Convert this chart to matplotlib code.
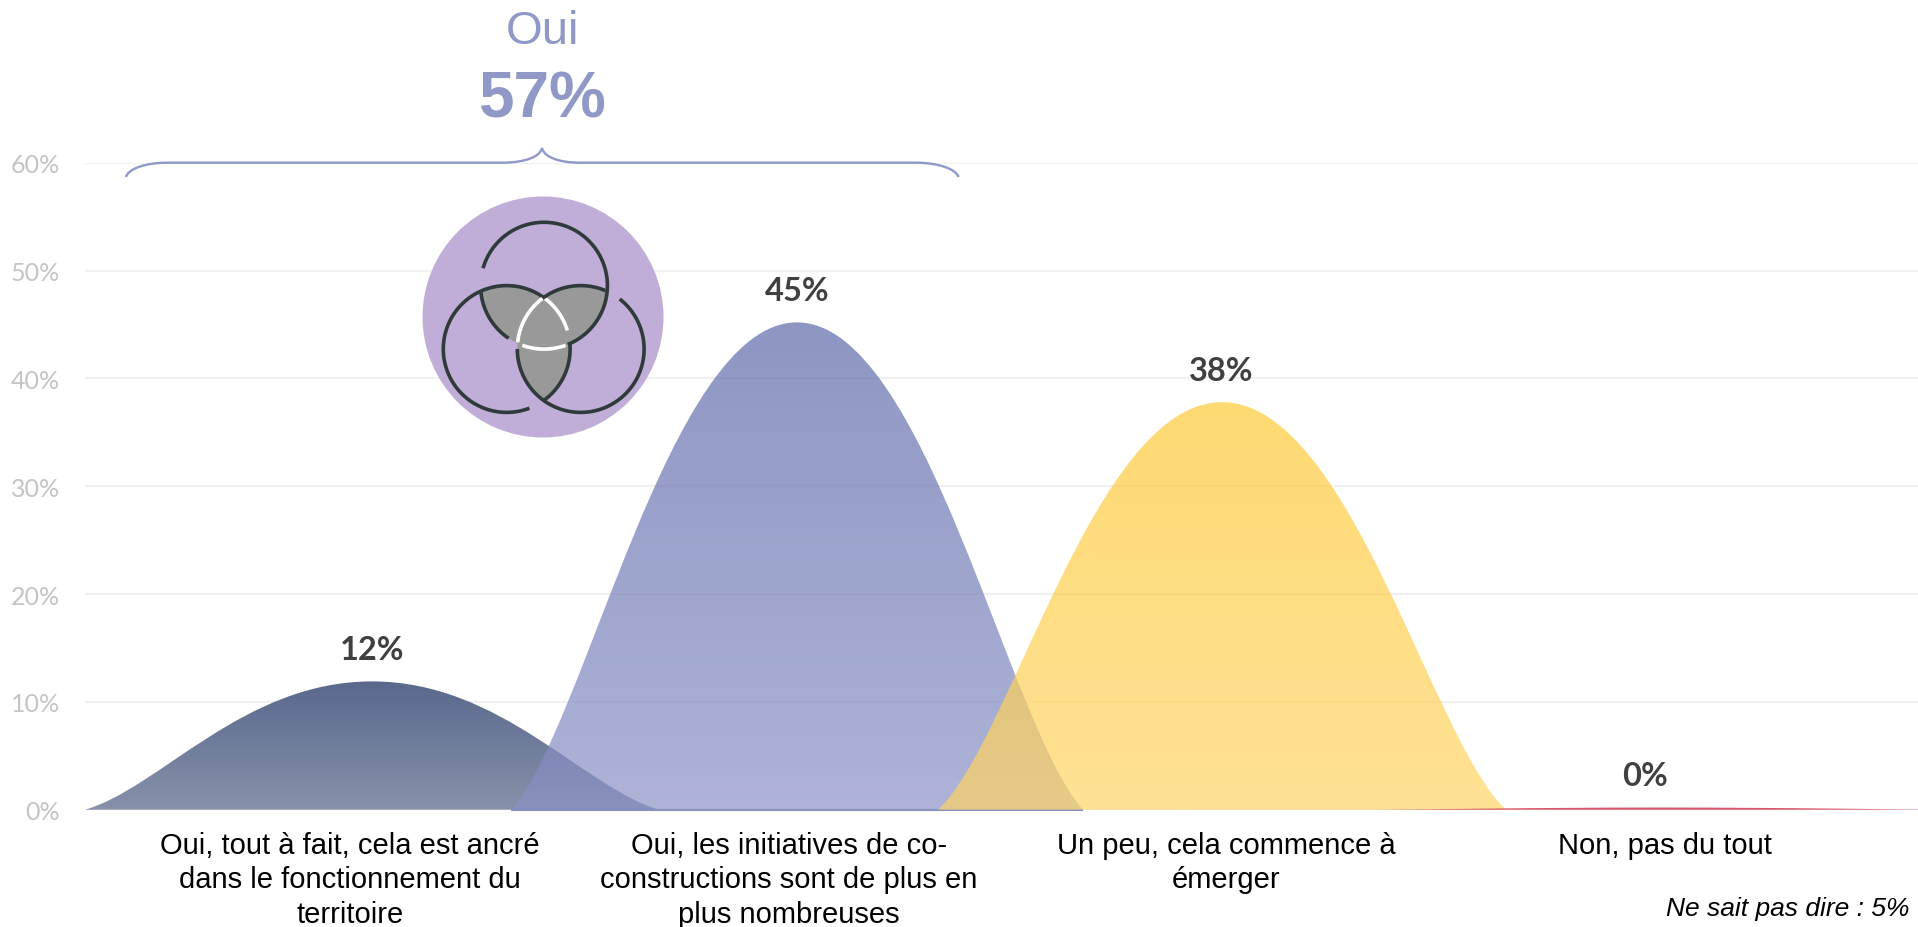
import numpy as np
import matplotlib
matplotlib.use("Agg")
import matplotlib.pyplot as plt
from matplotlib.patches import Circle, PathPatch
from matplotlib.path import Path

categories = [
    "Oui, tout à fait, cela est ancré\ndans le fonctionnement du\nterritoire",
    "Oui, les initiatives de co-\nconstructions sont de plus en\nplus nombreuses",
    "Un peu, cela commence à\némerger",
    "Non, pas du tout",
]
values = [11.9, 45.2, 37.8, 0.2]
y_ticks = [0, 10, 20, 30, 40, 50, 60]

# colours: top of the hill, bottom of the hill, opacity
top_colors = ["#59688c", "#5c69a9", "#ffca36", "#d9566a"]
bottom_colors = ["#8791aa", "#8b92c6", "#fed566", "#d9566a"]
alphas = [1.0, 0.7, 0.7, 1.0]

W, H = 1918, 928
LEFT, RIGHT, BASE, TOP = 85, 1918, 810.7, 163.8
peak_x = [372, 797, 1222, 1660]
half_w = [287, 286, 284, 290]
label_x = [350, 789, 1226, 1665]
value_x = [372, 797, 1221, 1645]
BLUE = "#8f98c6"

fig = plt.figure(figsize=(W / 100, H / 100), dpi=100)
ax = fig.add_axes([LEFT / W, 1 - BASE / H, (RIGHT - LEFT) / W, (BASE - TOP) / H])
ax.set_xlim(LEFT, RIGHT)
ax.set_ylim(0, 60)


def hill(c, w, v):
    # smoothed line through (c-w, 0), (c, v), (c+w, 0)
    verts = [(c - w, 0), (c - 0.74 * w, v / 6), (c - 0.45 * w, v), (c, v),
             (c + 0.45 * w, v), (c + 0.74 * w, v / 6), (c + w, 0), (c - w, 0)]
    codes = [Path.MOVETO] + [Path.CURVE4] * 6 + [Path.CLOSEPOLY]
    return Path(verts, codes)


for i, v in enumerate(values):
    c, w = peak_x[i], half_w[i]
    p = PathPatch(hill(c, w, v), fc="none", ec="none", transform=ax.transData)
    ax.add_patch(p)
    t = np.linspace(0, 1, 256)[:, None]
    c0 = np.array(matplotlib.colors.to_rgb(bottom_colors[i]))
    c1 = np.array(matplotlib.colors.to_rgb(top_colors[i]))
    rgb = c0 * (1 - t) + c1 * t
    rgba = np.dstack([rgb[:, None, :], np.full((256, 1, 1), alphas[i])])
    im = ax.imshow(rgba, origin="lower", extent=[c - w, c + w, 0, v], aspect="auto",
                   interpolation="bilinear", zorder=2 + i)
    im.set_clip_path(p)
    ax.annotate(f"{round(v)}%", (value_x[i], v), xytext=(0, 23), textcoords="offset points",
                ha="center", va="center", fontsize=23.5, fontweight="bold",
                family="Lato", color="#404040", zorder=10)

# thin blue strip along the base of the second hill
ax.plot([peak_x[1] - half_w[1], peak_x[1] + half_w[1]], [0, 0], color="#8791bf", lw=1.5,
        zorder=3, solid_capstyle="butt", clip_on=False)
ax.set_xlim(LEFT, RIGHT)
ax.set_ylim(0, 60)

ax.set_yticks(y_ticks, [f"{y}%" for y in y_ticks])
ax.set_xticks(label_x, categories)
ax.grid(axis="y", color="#f1f1f1", lw=1.6, zorder=0)
ax.set_axisbelow(True)
for s in ax.spines.values():
    s.set_visible(False)
ax.tick_params(axis="y", length=0, pad=18, labelcolor="#c4c4c4", labelsize=18)
ax.tick_params(axis="x", length=0, pad=15, labelsize=21, labelcolor="black")
for lab in ax.get_yticklabels():
    lab.set_family("Lato")
for lab in ax.get_xticklabels():
    lab.set_family("Liberation Sans")
    lab.set_linespacing(1.3)

# overlay in pixel coordinates for brace, headline and icon
ov = fig.add_axes([0, 0, 1, 1], facecolor="none")
ov.set_xlim(0, W)
ov.set_ylim(H, 0)
ov.axis("off")

ov.text(542, 44, "Oui", ha="center", va="baseline", fontsize=34, color=BLUE,
        family="Liberation Sans")
ov.text(542, 118, "57%", ha="center", va="baseline", fontsize=46, fontweight="bold", color=BLUE,
        family="Liberation Sans")
ov.text(1909, 916, "Ne sait pas dire : 5%", ha="right", va="baseline", fontsize=19,
        style="italic", family="Liberation Sans", color="black")

brace = Path(
    [(126, 178), (128, 170), (145, 163.7), (167, 163.7), (501, 163.7),
     (525, 163.7), (540, 158), (542, 149), (544, 158), (559, 163.7), (580, 163.7),
     (916, 163.7), (938, 163.7), (956, 170), (958.6, 178)],
    [Path.MOVETO, Path.CURVE4, Path.CURVE4, Path.CURVE4, Path.LINETO,
     Path.CURVE4, Path.CURVE4, Path.CURVE4, Path.CURVE4, Path.CURVE4, Path.CURVE4,
     Path.LINETO, Path.CURVE4, Path.CURVE4, Path.CURVE4])
ov.add_patch(PathPatch(brace, fc="none", ec=BLUE, lw=1.7))

# icon: three interlaced rings on a purple disc
ov.add_patch(Circle((543, 318), 120.5, fc="#c0aed9", ec="none"))
R = 63.4
ctop, cleft, cright = (544, 286.7), (506.7, 350), (580.7, 350)
for a, b in [(ctop, cleft), (ctop, cright), (cleft, cright)]:
    clip = Circle(b, R, transform=ov.transData)
    lens = Circle(a, R, fc="#999999", ec="none")
    ov.add_patch(lens)
    lens.set_clip_path(clip)


def arc(center, a0, a1, color):
    t = np.radians(np.linspace(a0, a1, 120))
    ov.plot(center[0] + R * np.cos(t), center[1] + R * np.sin(t), color=color, lw=2.6,
            solid_capstyle="butt")


# angles clockwise on screen, 0 = east
DARK = "#2f3a3a"
arc(ctop, 196, 360 + 68, DARK)
arc(ctop, 124, 174, DARK)
arc(ctop, 110, 70, "white")
arc(cleft, 69, 306, DARK)
arc(cleft, -6, 54, DARK)
arc(cleft, -54, -17, "white")
arc(cright, -52, 180, DARK)
arc(cright, 186, 233, "white")
arc(cright, 233, 293, DARK)

plt.savefig("out.png", dpi=100)
